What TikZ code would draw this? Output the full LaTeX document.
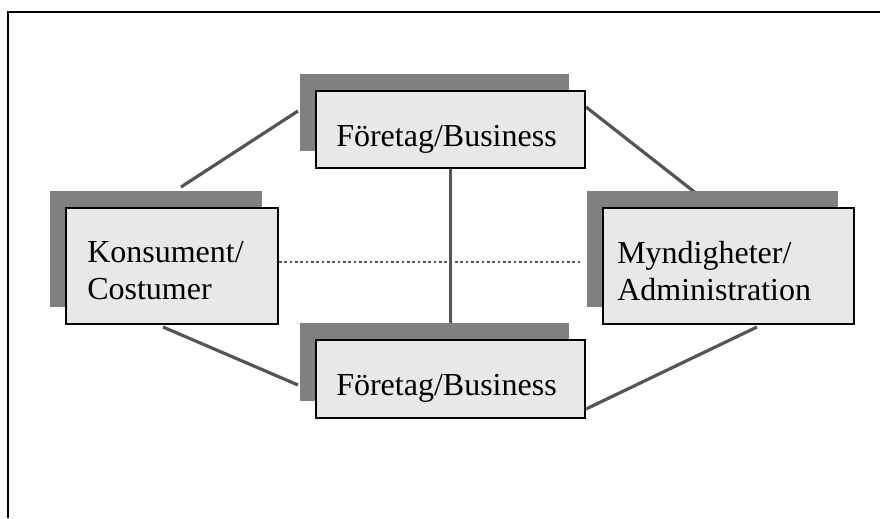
\documentclass[tikz,border=0pt]{standalone}
\usepackage{fontspec}
\setmainfont{Liberation Serif}
\usetikzlibrary{calc,shadows,backgrounds}
\definecolor{boxgray}{HTML}{E8E8E8}
\definecolor{shadegray}{HTML}{808080}
\definecolor{linegray}{HTML}{555555}
\tikzset{
  actor/.style={draw=black, line width=1.5pt, fill=boxgray, rectangle, inner sep=0pt,
    drop shadow={shadow xshift=-12pt, shadow yshift=12.75pt, fill=shadegray, opacity=1}},
  lbl/.style={inner sep=0pt, align=left, font=\fontsize{24}{27.75}\selectfont},
  link/.style={draw=linegray, line width=2.4pt},
  weaklink/.style={draw=linegray, line width=2.1pt, dash pattern=on 1.9pt off 2.1pt},
}
\begin{document}
\begin{tikzpicture}[x=0.75pt,y=-0.75pt]
  \useasboundingbox (0,0) rectangle (880,518);
  \draw[line width=1.5pt] (8,518)--(8,12)--(880,12); % frame
  % boxes
  \node[actor, minimum width=201.75pt, minimum height=57.75pt] (top) at (450.5,129.5) {};
  \node[actor, minimum width=159pt, minimum height=87pt] (kons) at (172,266) {};
  \node[actor, minimum width=188.25pt, minimum height=87pt] (myn) at (728.5,266) {};
  \node[actor, minimum width=201.75pt, minimum height=58.5pt] (bot) at (450.5,379) {};
  % texts
  \node[lbl, anchor=base west] (toptxt) at ($(top.north west)+(21,56)$) {Företag/Business};
  \node[lbl, anchor=base west] (bottxt) at ($(bot.north west)+(21,56)$) {Företag/Business};
  \node[lbl, anchor=west] (konstxt) at ($(kons.west)+(22,5)$) {Konsument/\\Costumer};
  \node[lbl, anchor=west] (myntxt) at ($(myn.west)+(15,5)$) {Myndigheter/\\Administration};
  % links
  \begin{scope}[on background layer]
    \draw[link] ($(kons.north west)+(116,-20)$) -- ($(top.north west)+(-17,21)$);
    \draw[link] ($(top.north east)+(0,17)$) -- ($(myn.north west)+(95,-13)$);
    \draw[link] (top.south) -- (bot.north);
    \draw[weaklink] ($(kons.east)+(0,-4)$) -- ($(myn.west)+(-20,-4)$);
    \draw[link] ($(kons.south)+(-9,2)$) -- ($(bot.west)+(-17,6)$);
    \draw[link] ($(bot.south east)+(0,-10)$) -- ($(myn.south)+(28.5,2)$);
  \end{scope}
\end{tikzpicture}
\end{document}
